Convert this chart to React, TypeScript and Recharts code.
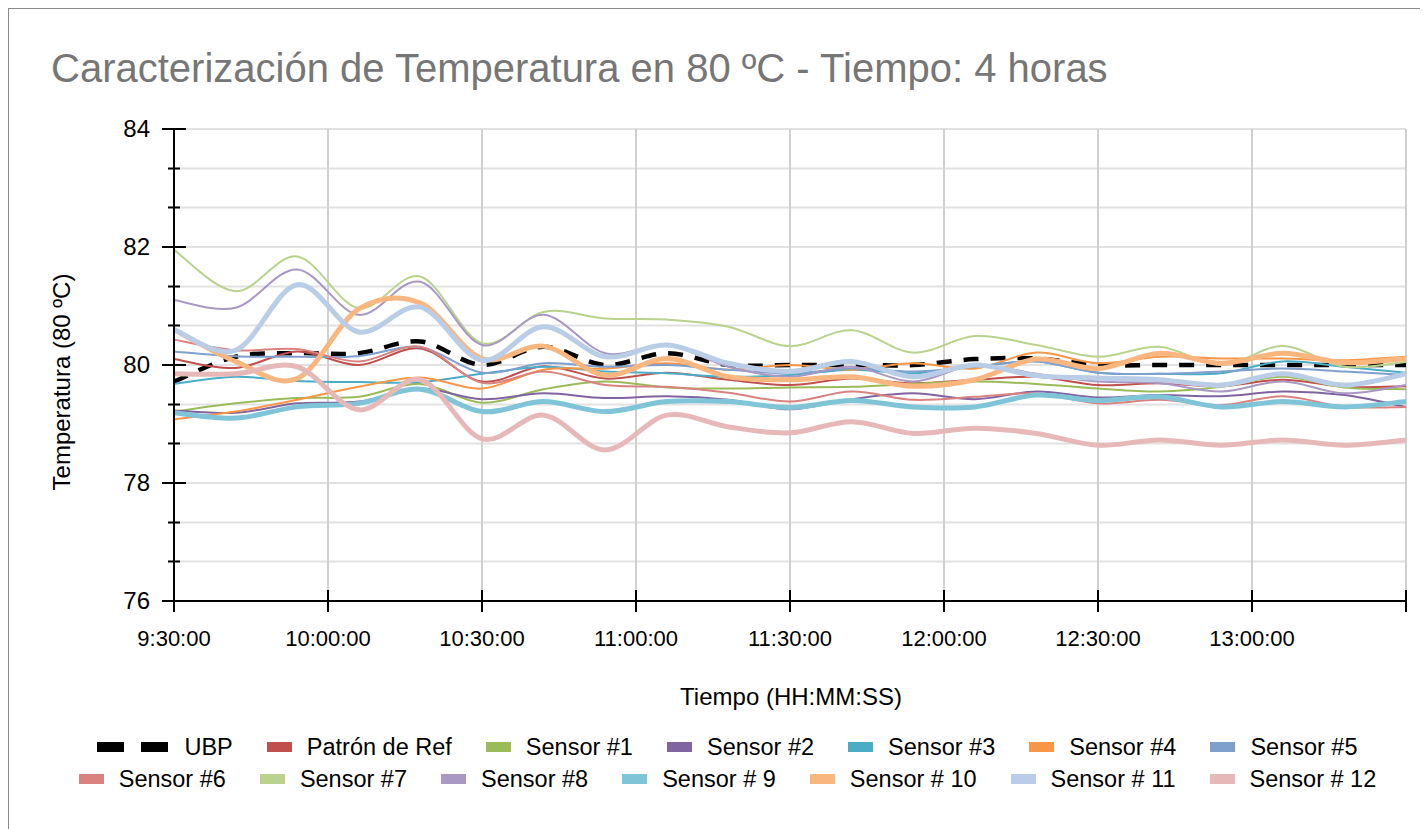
import React from 'react';
import { LineChart, Line, XAxis, YAxis, CartesianGrid, Legend } from 'recharts';

// minutes after 9:30:00, one reading every 12 min
const MINUTES = [0, 12, 24, 36, 48, 60, 72, 84, 96, 108, 120, 132, 144, 156, 168, 180, 192, 204, 216, 228, 240];

const UBP = [79.72, 80.14, 80.2, 80.2, 80.4, 80.0, 80.31, 80.0, 80.2, 80.0, 80.0, 80.0, 80.0, 80.1, 80.11, 80.0, 80.0, 80.0, 80.0, 80.0, 80.0];
const PATRON = [80.1, 79.95, 80.23, 80.0, 80.28, 79.72, 79.98, 79.77, 79.87, 79.75, 79.66, 79.77, 79.69, 79.75, 79.8, 79.66, 79.69, 79.64, 79.75, 79.63, 79.64];
const S1 = [79.21, 79.35, 79.44, 79.46, 79.68, 79.36, 79.59, 79.72, 79.62, 79.6, 79.62, 79.63, 79.68, 79.72, 79.68, 79.6, 79.55, 79.63, 79.8, 79.62, 79.59];
const S2 = [79.23, 79.19, 79.35, 79.38, 79.6, 79.42, 79.52, 79.44, 79.47, 79.41, 79.25, 79.42, 79.52, 79.42, 79.55, 79.45, 79.49, 79.47, 79.55, 79.49, 79.29];
const S3 = [79.68, 79.8, 79.73, 79.71, 79.71, 79.85, 79.97, 79.89, 79.86, 79.8, 79.83, 79.92, 79.86, 79.97, 80.06, 79.87, 79.85, 79.86, 80.06, 79.97, 79.87];
const S4 = [79.08, 79.21, 79.41, 79.63, 79.79, 79.6, 79.92, 79.94, 80.03, 79.92, 80.0, 79.92, 80.03, 79.94, 80.21, 80.03, 80.14, 80.11, 80.11, 80.08, 80.14];
const S5 = [80.23, 80.15, 80.14, 80.15, 80.3, 79.87, 80.03, 79.97, 80.0, 79.92, 79.86, 79.94, 79.89, 79.97, 80.06, 79.87, 79.85, 79.89, 79.94, 79.89, 79.83];
const S6 = [80.43, 80.25, 80.27, 80.06, 80.31, 79.7, 79.89, 79.66, 79.63, 79.53, 79.38, 79.55, 79.41, 79.46, 79.52, 79.35, 79.41, 79.32, 79.47, 79.29, 79.29];
const S7 = [81.95, 81.25, 81.84, 80.96, 81.5, 80.37, 80.9, 80.79, 80.77, 80.65, 80.32, 80.59, 80.21, 80.49, 80.34, 80.14, 80.31, 80.0, 80.32, 79.97, 80.05];
const S8 = [81.1, 80.97, 81.62, 80.85, 81.41, 80.34, 80.85, 80.2, 80.34, 79.97, 79.8, 79.97, 79.72, 80.0, 79.85, 79.72, 79.69, 79.55, 79.72, 79.52, 79.66];
const S9 = [79.19, 79.1, 79.29, 79.35, 79.59, 79.21, 79.38, 79.21, 79.38, 79.38, 79.28, 79.4, 79.29, 79.29, 79.49, 79.4, 79.46, 79.29, 79.38, 79.29, 79.38];
const S10 = [80.6, 80.06, 79.77, 80.95, 81.05, 80.11, 80.32, 79.83, 80.11, 79.8, 79.75, 79.8, 79.64, 79.75, 80.1, 79.94, 80.2, 80.03, 80.2, 80.04, 80.11];
const S11 = [80.6, 80.25, 81.36, 80.56, 80.98, 80.08, 80.65, 80.14, 80.34, 80.03, 79.89, 80.06, 79.8, 80.0, 79.82, 79.78, 79.75, 79.66, 79.85, 79.66, 79.85];
const S12 = [79.85, 79.85, 79.97, 79.24, 79.75, 78.75, 79.15, 78.56, 79.15, 78.95, 78.85, 79.04, 78.84, 78.93, 78.84, 78.64, 78.73, 78.64, 78.73, 78.64, 78.73];

const X_TICKS = [0, 30, 60, 90, 120, 150, 180, 210, 240];
const X_LABELS = ['9:30:00', '10:00:00', '10:30:00', '11:00:00', '11:30:00', '12:00:00', '12:30:00', '13:00:00', ''];
const Y_TICKS = [76, 76.67, 77.33, 78, 78.67, 79.33, 80, 80.67, 81.33, 82, 82.67, 83.33, 84];
const Y_LABELS = [76, 78, 80, 82, 84];

const SERIES = [
  { key: 'ubp', name: 'UBP', values: UBP, color: '#000000', width: 4.5, dash: '15 12' },
  { key: 'ref', name: 'Patrón de Ref', values: PATRON, color: '#C0504D', width: 2 },
  { key: 's1', name: 'Sensor #1', values: S1, color: '#9BBB59', width: 2 },
  { key: 's2', name: 'Sensor #2', values: S2, color: '#8064A2', width: 2 },
  { key: 's3', name: 'Sensor #3', values: S3, color: '#4BACC6', width: 2 },
  { key: 's4', name: 'Sensor #4', values: S4, color: '#F79646', width: 2 },
  { key: 's5', name: 'Sensor #5', values: S5, color: '#7F9FCD', width: 2 },
  { key: 's6', name: 'Sensor #6', values: S6, color: '#D9827F', width: 2 },
  { key: 's7', name: 'Sensor #7', values: S7, color: '#BAD28E', width: 2 },
  { key: 's8', name: 'Sensor #8', values: S8, color: '#A898C3', width: 2 },
  { key: 's9', name: 'Sensor # 9', values: S9, color: '#7FC5D7', width: 5 },
  { key: 's10', name: 'Sensor # 10', values: S10, color: '#FAB67F', width: 5 },
  { key: 's11', name: 'Sensor # 11', values: S11, color: '#B9CDE6', width: 5 },
  { key: 's12', name: 'Sensor # 12', values: S12, color: '#E6B9B8', width: 5 },
];

const data = MINUTES.map((m, i) => {
  const row: Record<string, number> = { min: m };
  SERIES.forEach((s) => { row[s.key] = s.values[i]; });
  return row;
});

const FONT = '"Liberation Sans", Arial, sans-serif';

// spreadsheet-style smoothed line (Catmull-Rom through every point)
function smoothCurve(context: any) {
  let pts: [number, number][] = [];
  return {
    areaStart() {},
    areaEnd() {},
    lineStart() { pts = []; },
    point(x: number, y: number) { pts.push([x, y]); },
    lineEnd() {
      const n = pts.length;
      if (!n) return;
      context.moveTo(pts[0][0], pts[0][1]);
      for (let i = 0; i < n - 1; i++) {
        const p0 = pts[Math.max(i - 1, 0)];
        const p1 = pts[i];
        const p2 = pts[i + 1];
        const p3 = pts[Math.min(i + 2, n - 1)];
        context.bezierCurveTo(
          p1[0] + (p2[0] - p0[0]) / 6, p1[1] + (p2[1] - p0[1]) / 6,
          p2[0] - (p3[0] - p1[0]) / 6, p2[1] - (p3[1] - p1[1]) / 6,
          p2[0], p2[1],
        );
      }
    },
  };
}

function YTick(props: any) {
  const { x, y, payload } = props;
  const major = Y_LABELS.includes(payload.value);
  const len = major ? 12 : 6;
  return (
    <g>
      <line x1={x - len} x2={x + len} y1={y} y2={y} stroke="#000" strokeWidth={2} />
      {major && (
        <text x={x - 24} y={y + 8} textAnchor="end" fontSize={24} fill="#000">{payload.value}</text>
      )}
    </g>
  );
}

function XTick(props: any) {
  const { x, y, payload } = props;
  const label = X_LABELS[X_TICKS.indexOf(payload.value)];
  return (
    <g>
      <line x1={x} x2={x} y1={y - 11} y2={y + 11} stroke="#000" strokeWidth={2} />
      <text x={x} y={y + 45} textAnchor="middle" fontSize={22} fill="#000">{label}</text>
    </g>
  );
}

function LegendRows() {
  const rows = [SERIES.slice(0, 7), SERIES.slice(7)];
  return (
    <div style={{ height: 64, paddingLeft: 18, fontSize: 23.5, color: '#000', fontFamily: FONT }}>
      {rows.map((row, r) => (
        <div key={r} style={{ display: 'flex', justifyContent: 'center', alignItems: 'center', height: 32, gap: 34 }}>
          {row.map((s) => (
            <div key={s.key} style={{ display: 'flex', alignItems: 'center', whiteSpace: 'nowrap' }}>
              {s.dash ? (
                <svg width={71} height={10} style={{ marginRight: 16 }}>
                  <line x1={0} x2={71} y1={5} y2={5} stroke="#000" strokeWidth={10} strokeDasharray="27 17" />
                </svg>
              ) : (
                <span style={{ display: 'inline-block', width: 25, height: 10, background: s.color, marginRight: 15 }} />
              )}
              <span>{s.name}</span>
            </div>
          ))}
        </div>
      ))}
    </div>
  );
}

export default function App() {
  return (
    <div
      style={{
        position: 'relative', width: 1420, height: 822, boxSizing: 'border-box',
        borderTop: '1px solid #8c8c8c', borderLeft: '1px solid #8c8c8c', fontFamily: FONT, background: '#fff',
      }}
    >
      <div style={{ position: 'absolute', left: 42, top: 39, fontSize: 40, lineHeight: '40px', color: '#767676', whiteSpace: 'nowrap' }}>
        Caracterización de Temperatura en 80 ºC - Tiempo: 4 horas
      </div>
      <div
        style={{
          position: 'absolute', left: 53, top: 373, fontSize: 24, whiteSpace: 'nowrap',
          transform: 'translate(-50%, -50%) rotate(-90deg)', color: '#000',
        }}
      >
        Temperatura (80 ºC)
      </div>
      <div style={{ position: 'absolute', left: 782, top: 676, fontSize: 24, lineHeight: '24px', transform: 'translateX(-50%)', whiteSpace: 'nowrap', color: '#000' }}>
        Tiempo (HH:MM:SS)
      </div>

      <LineChart width={1419} height={821} data={data} margin={{ top: 120, right: 22, left: 0, bottom: 65 }}>
        <CartesianGrid vertical={false} stroke="#e2e2e2" strokeWidth={2} />
        <CartesianGrid horizontal={false} stroke="#d0d0d0" strokeWidth={2} />
        <XAxis
          dataKey="min" type="number" domain={[0, 240]} ticks={X_TICKS} interval={0}
          height={100} tickSize={0} tickMargin={0} tick={<XTick />}
          axisLine={{ stroke: '#000', strokeWidth: 2 }} tickLine={false}
        />
        <YAxis
          type="number" domain={[76, 84]} ticks={Y_TICKS} interval={0} width={165}
          tickSize={0} tickMargin={0} tick={<YTick />}
          axisLine={{ stroke: '#000', strokeWidth: 2 }} tickLine={false}
        />
        <Legend content={() => <LegendRows />} wrapperStyle={{ top: 722, left: 0, width: 1419, bottom: 'auto' }} />
        {SERIES.map((s) => (
          <Line
            key={s.key} type={smoothCurve as any} dataKey={s.key} name={s.name}
            stroke={s.color} strokeWidth={s.width} strokeDasharray={s.dash}
            dot={false} activeDot={false} isAnimationActive={false}
          />
        ))}
      </LineChart>
    </div>
  );
}
